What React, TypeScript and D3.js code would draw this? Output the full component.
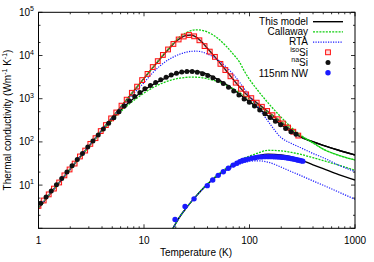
import React from 'react';
import * as d3 from 'd3';

const W = 374, H = 262;
const L = 38.5, R = 355, TOP = 12.3, B = 228.3;

// Model curves (bulk), temperature grid in K
const modelT = [1, 1.5, 2, 3, 4, 5, 6, 7, 8, 9, 10, 12, 14, 16, 18, 20, 22, 25, 28, 31, 35, 40, 45, 50, 60, 70, 80, 90, 100, 120, 150, 200, 250, 300, 400, 500, 700, 1000];
const isoModel = [2.9, 10, 23.5, 80, 190, 370, 640, 1010, 1510, 2150, 2950, 5100, 8000, 11700, 16000, 21000, 25000, 29000, 29800, 27000, 21000, 14500, 10500, 7700, 4500, 2800, 1900, 1380, 1100, 770, 500, 285, 185, 132, 100, 83, 64, 50];
const naModel = [2.9, 10, 23.5, 79, 182, 335, 540, 770, 1020, 1300, 1580, 2100, 2560, 3000, 3420, 3780, 4050, 4300, 4370, 4300, 4100, 3650, 3200, 2800, 2150, 1650, 1280, 1030, 850, 620, 400, 250, 170, 135, 101, 83, 64, 50];
const isoCallaway = [2.9, 10, 23.5, 80, 190, 370, 640, 1010, 1510, 2150, 2950, 5150, 8200, 12000, 16800, 22300, 27500, 33500, 37800, 39400, 38500, 35000, 30000, 25000, 16500, 10800, 7200, 4200, 2800, 1550, 800, 370, 215, 148, 96, 68, 49, 38];
const naCallaway = [2.9, 10, 23, 77, 175, 320, 500, 700, 910, 1130, 1350, 1780, 2150, 2450, 2700, 2880, 3000, 3120, 3170, 3150, 3080, 2900, 2700, 2480, 2050, 1700, 1400, 1160, 970, 700, 480, 300, 200, 142, 94, 68, 49, 38];
const isoRTA = [2.9, 10, 23.5, 80, 188, 360, 610, 930, 1330, 1800, 2350, 3900, 5600, 7200, 8600, 9800, 10800, 11900, 12500, 12600, 12200, 10800, 9400, 8000, 5400, 3700, 2450, 1650, 1150, 650, 300, 125, 92, 75, 54, 43, 29, 20.5];

// Nanowire model curves
const nwT = [17, 18, 20, 22, 25, 28, 30, 35, 40, 45, 50, 60, 70, 80, 90, 100, 120, 150, 200, 250, 300, 400, 500, 700, 1000];
const nwModel = [0.6, 0.8, 1.3, 1.9, 2.9, 4.1, 5.0, 7.6, 10.5, 13.6, 16.8, 23, 29, 34, 38.5, 42, 47.5, 52, 50, 45, 39, 29.5, 24, 17.5, 13.1];
const nwCallaway = [0.6, 0.8, 1.3, 1.9, 2.9, 4.1, 5.0, 7.7, 10.8, 14, 17.5, 24.5, 31, 37, 42.5, 47, 55, 64, 62, 57, 52, 43, 37, 29, 22];
const nwRTA = [0.6, 0.8, 1.3, 1.9, 2.9, 4.1, 5.0, 7.5, 10.3, 13.2, 16, 21.5, 26.5, 30.5, 33.5, 35.5, 36.5, 34, 26, 20.5, 17, 12.5, 9.9, 6.9, 4.7];

// Experimental data
const isoT = [1.0, 1.12, 1.25, 1.4, 1.57, 1.76, 1.97, 2.2, 2.47, 2.77, 3.1, 3.47, 3.89, 4.35, 4.88, 5.46, 6.12, 6.85, 7.67, 8.6, 9.6, 10.8, 12.1, 13.5, 15.1, 16.9, 19, 21.3, 23.8, 26.7, 29.9, 33.5, 37.5, 42, 47, 53, 59, 66, 74, 83, 93, 104, 117, 131, 147, 165, 185, 207, 232, 260, 290];
const isoK = [3.3, 4.4, 6.1, 8.3, 11.5, 16.8, 23, 31.5, 46, 63, 90, 122, 178, 245, 350, 480, 690, 950, 1370, 1900, 2700, 3750, 5400, 7400, 10300, 13800, 18500, 23500, 27500, 29800, 27800, 22500, 16500, 12300, 9300, 6400, 4600, 3300, 2350, 1700, 1260, 1030, 810, 650, 520, 415, 335, 268, 215, 172, 140];
const naT = [1.05, 1.18, 1.32, 1.48, 1.66, 1.86, 2.08, 2.33, 2.61, 2.93, 3.28, 3.68, 4.12, 4.62, 5.18, 5.8, 6.5, 7.28, 8.16, 9.14, 10.2, 11.5, 12.9, 14.4, 16.2, 18.1, 20.3, 22.8, 25.5, 28.6, 32, 35.9, 40.2, 45, 50.4, 56.5, 63.3, 70.9, 79.4, 88.9, 99.6, 111.5, 125, 140, 157, 176, 197, 220, 247, 276];
const naK = [3.8, 5.3, 7.3, 10.2, 14.3, 20, 28, 39, 54, 76, 105, 145, 200, 272, 360, 500, 680, 880, 1120, 1400, 1700, 2020, 2380, 2750, 3150, 3550, 3900, 4150, 4280, 4280, 4100, 3800, 3450, 3050, 2650, 2250, 1850, 1500, 1220, 990, 830, 680, 550, 450, 365, 300, 248, 205, 172, 150];
const nwDataT = [19.7, 24.5, 29.8, 39.8, 44.8, 50.5, 56.5, 63, 70, 76, 81, 86, 90.6, 97, 105, 113, 121, 130, 140, 150, 160, 170, 180, 190, 200, 210, 220, 230, 240, 250, 260, 270, 280, 290, 300, 310, 320];
const nwDataK = [1.6, 3.2, 4.8, 9.7, 13.1, 16.8, 20.4, 24.5, 29, 32, 35, 37, 38, 40, 41.7, 43, 44.5, 45, 45.5, 45.5, 45.5, 45.3, 45, 44.7, 44.3, 43.8, 43.2, 42.5, 41.8, 41, 40.2, 39.4, 38.6, 37.8, 37, 36.4, 35.8];

const xMajor = [1, 10, 100, 1000];
const xLabels = ['1', '10', '100', '1000'];
const yExp = [1, 2, 3, 4, 5];

const GREEN = '#10d010';
const BLUE = '#1a1aff';
const RED = '#ff1010';
const FONT = 'Liberation Sans, Arial, Helvetica, sans-serif';

export default function App() {
  const x = d3.scaleLog().domain([1, 1000]).range([L, R]);
  const y = d3.scaleLog().domain([1, 1e5]).range([B, TOP]);
  const line = d3.line<[number, number]>().x(d => x(d[0])).y(d => y(d[1])).curve(d3.curveMonotoneX);
  const path = (ts: number[], vs: number[]) => line(ts.map((t, i) => [t, vs[i]] as [number, number])) || '';

  const xMinor: number[] = [];
  for (let e = 0; e < 3; e++) for (let m = 2; m <= 9; m++) xMinor.push(m * Math.pow(10, e));
  const yMinor: number[] = [];
  for (let e = 0; e < 5; e++) for (const m of [2, 5]) yMinor.push(m * Math.pow(10, e));

  const legendX = 308;
  const rowY = (i: number) => 21.7 + i * 10.2;
  const sampleX1 = 313, sampleX2 = 343, markX = 328;

  const blackLine = { stroke: '#000', strokeWidth: 1.4, fill: 'none' };
  const greenLine = { stroke: GREEN, strokeWidth: 1.3, fill: 'none', strokeDasharray: '2,1.2' };
  const blueLine = { stroke: BLUE, strokeWidth: 1.2, fill: 'none', strokeDasharray: '1.2,1.3' };

  return (
    <svg width={W} height={H} style={{ position: 'absolute', left: 0, top: 0, background: '#fff' }} fontFamily={FONT}>
      <defs>
        <clipPath id="plotclip">
          <rect x={L} y={TOP} width={R - L} height={B - TOP} />
        </clipPath>
      </defs>
      <rect x={0} y={0} width={W} height={H} fill="#fff" />

      {/* ticks */}
      <g stroke="#000" strokeWidth={0.8}>
        {xMajor.map(v => (
          <g key={'xM' + v}>
            <line x1={x(v)} x2={x(v)} y1={B} y2={B - 4} />
            <line x1={x(v)} x2={x(v)} y1={TOP} y2={TOP + 4} />
          </g>
        ))}
        {xMinor.map(v => (
          <g key={'xm' + v}>
            <line x1={x(v)} x2={x(v)} y1={B} y2={B - 2} />
            <line x1={x(v)} x2={x(v)} y1={TOP} y2={TOP + 2} />
          </g>
        ))}
        {[0, ...yExp].map(e => (
          <g key={'yM' + e}>
            <line x1={L} x2={L + 4} y1={y(Math.pow(10, e))} y2={y(Math.pow(10, e))} />
            <line x1={R} x2={R - 4} y1={y(Math.pow(10, e))} y2={y(Math.pow(10, e))} />
          </g>
        ))}
        {yMinor.map(v => (
          <g key={'ym' + v}>
            <line x1={L} x2={L + 2} y1={y(v)} y2={y(v)} />
            <line x1={R} x2={R - 2} y1={y(v)} y2={y(v)} />
          </g>
        ))}
      </g>

      {/* curves */}
      <g clipPath="url(#plotclip)">
        <path d={path(modelT, isoModel)} {...blackLine} />
        <path d={path(modelT, naModel)} {...blackLine} />
        <path d={path(nwT, nwModel)} {...blackLine} />
        <path d={path(modelT, isoCallaway)} {...greenLine} />
        <path d={path(modelT, naCallaway)} {...greenLine} />
        <path d={path(nwT, nwCallaway)} {...greenLine} />
        <path d={path(modelT, isoRTA)} {...blueLine} />
        <path d={path(nwT, nwRTA)} {...blueLine} />

        {isoT.map((t, i) => (
          <rect key={'iso' + i} x={x(t) - 2.4} y={y(isoK[i]) - 2.4} width={4.8} height={4.8} fill="rgba(255,120,120,0.25)" stroke={RED} strokeWidth={1} />
        ))}
        {naT.map((t, i) => (
          <circle key={'na' + i} cx={x(t)} cy={y(naK[i])} r={2.5} fill="#111" />
        ))}
        {nwDataT.map((t, i) => (
          <circle key={'nw' + i} cx={x(t)} cy={y(nwDataK[i])} r={2.7} fill={BLUE} />
        ))}
      </g>

      {/* frame */}
      <rect x={L} y={TOP} width={R - L} height={B - TOP} fill="none" stroke="#000" strokeWidth={1} />

      {/* x tick labels */}
      {xMajor.map((v, i) => (
        <text key={'xl' + v} x={x(v)} y={244} fontSize={10} textAnchor="middle" fill="#000">{xLabels[i]}</text>
      ))}
      {/* y tick labels */}
      {yExp.map(e => (
        <text key={'yl' + e} x={34} y={y(Math.pow(10, e)) + 3.5} fontSize={10} textAnchor="end" fill="#000">
          10<tspan fontSize={7} dy={-4.5}>{e}</tspan>
        </text>
      ))}

      {/* axis titles */}
      <text x={196} y={256} fontSize={10} textAnchor="middle" fill="#000">Temperature (K)</text>
      <text transform={`translate(10.5, 120) rotate(-90)`} fontSize={10} textAnchor="middle" fill="#000">
        Thermal conductivity (Wm<tspan fontSize={7} dy={-4}>-1</tspan><tspan dy={4}> K</tspan><tspan fontSize={7} dy={-4}>-1</tspan><tspan dy={4}>)</tspan>
      </text>

      {/* legend */}
      <g fontSize={10} fill="#000">
        <text x={legendX} y={rowY(0) + 3.5} textAnchor="end">This model</text>
        <line x1={sampleX1} x2={sampleX2} y1={rowY(0)} y2={rowY(0)} {...blackLine} />
        <text x={legendX} y={rowY(1) + 3.5} textAnchor="end">Callaway</text>
        <line x1={sampleX1} x2={sampleX2} y1={rowY(1)} y2={rowY(1)} {...greenLine} />
        <text x={legendX} y={rowY(2) + 3} textAnchor="end">RTA</text>
        <line x1={sampleX1} x2={sampleX2} y1={rowY(2)} y2={rowY(2)} {...blueLine} />
        <text x={legendX} y={rowY(3) + 4} textAnchor="end"><tspan fontSize={7} dy={-4}>iso</tspan><tspan dy={4}>Si</tspan></text>
        <rect x={markX - 2.4} y={rowY(3) - 2.4} width={4.8} height={4.8} fill="rgba(255,120,120,0.25)" stroke={RED} strokeWidth={1} />
        <text x={legendX} y={rowY(4) + 3.6} textAnchor="end"><tspan fontSize={7} dy={-4}>na</tspan><tspan dy={4}>Si</tspan></text>
        <circle cx={markX} cy={rowY(4)} r={2.5} fill="#111" />
        <text x={legendX} y={rowY(5) + 3.8} textAnchor="end">115nm NW</text>
        <circle cx={markX} cy={rowY(5)} r={2.7} fill={BLUE} />
      </g>
    </svg>
  );
}
